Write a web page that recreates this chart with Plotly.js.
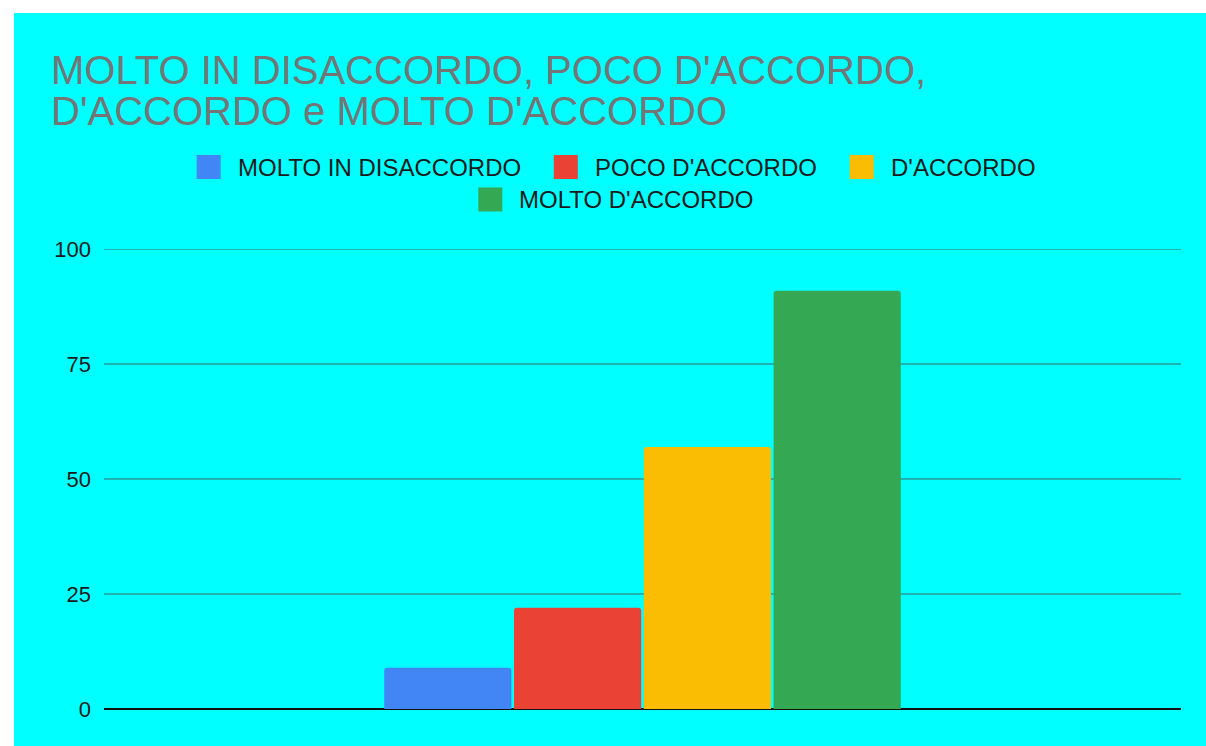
<!DOCTYPE html>
<html>
<head>
<meta charset="utf-8">
<script src="https://cdn.plot.ly/plotly-3.0.1.min.js"></script>
<style>
  html, body { margin: 0; padding: 0; background: #ffffff; }
  #chart { width: 1206px; height: 746px; }
</style>
</head>
<body>
<div id="chart"></div>
<script>
// ---- data ----
const titleLines = ["MOLTO IN DISACCORDO, POCO D'ACCORDO,", "D'ACCORDO e MOLTO D'ACCORDO"];
const category = [""];
const seriesNames = ["MOLTO IN DISACCORDO", "POCO D'ACCORDO", "D'ACCORDO", "MOLTO D'ACCORDO"];
const seriesValues = [9, 22, 57, 91];
const seriesColors = ["#4285F4", "#EA4335", "#FBBC04", "#34A853"];
const yTicks = [0, 25, 50, 75, 100];

// ---- geometry (pixels) ----
const W = 1206, H = 746;
const M = { l: 104, r: 25, t: 247, b: 37 };
const PW = W - M.l - M.r, PH = H - M.t - M.b;
const px2x = px => (px - M.l) / PW;
const py2y = py => (M.t + PH - py) / PH;

const FONT = "Liberation Sans, Arial, sans-serif";

const traces = seriesNames.map((name, i) => ({
  type: "bar",
  name: name,
  x: category,
  y: [seriesValues[i]],
  marker: { color: seriesColors[i], cornerradius: 3 },
  showlegend: false,
  hoverinfo: "skip"
}));

// ---- custom legend (large rounded swatches, centered rows) ----
const legendFontSize = 24;
const cvs = document.createElement("canvas");
const ctx = cvs.getContext("2d");
ctx.font = legendFontSize + "px 'Liberation Sans'";
const rows = [[0, 1, 2], [3]];
const rowY = [167, 199.5];
const SW = 24, TXT_OFF = 41, ITEM_GAP = 33, CENTER_X = 616;
const shapes = [];
const annotations = [];
rows.forEach((row, r) => {
  const widths = row.map(i => TXT_OFF + ctx.measureText(seriesNames[i]).width);
  const total = widths.reduce((a, b) => a + b, 0) + ITEM_GAP * (row.length - 1);
  let x = CENTER_X - total / 2;
  row.forEach((i, k) => {
    const cy = rowY[r];
    shapes.push({
      type: "rect", xref: "paper", yref: "paper", layer: "above",
      x0: px2x(x), x1: px2x(x + SW), y0: py2y(cy + SW / 2), y1: py2y(cy - SW / 2),
      fillcolor: seriesColors[i], line: { width: 0 }
    });
    annotations.push({
      xref: "paper", yref: "paper", x: px2x(x + TXT_OFF - 2), y: py2y(cy),
      xanchor: "left", yanchor: "middle", showarrow: false,
      text: seriesNames[i], font: { family: FONT, size: legendFontSize, color: "#1a1a1a" }
    });
    x += widths[k] + ITEM_GAP;
  });
});

// white strips outside the cyan chart card
shapes.push({ type: "rect", xref: "paper", yref: "paper", layer: "above",
  x0: px2x(0), x1: px2x(W), y0: py2y(13), y1: py2y(0), fillcolor: "#ffffff", line: { width: 0 } });
shapes.push({ type: "rect", xref: "paper", yref: "paper", layer: "above",
  x0: px2x(0), x1: px2x(14), y0: py2y(H), y1: py2y(0), fillcolor: "#ffffff", line: { width: 0 } });

// second title line
annotations.push({
  xref: "paper", yref: "paper", x: px2x(49), y: py2y(111),
  xanchor: "left", yanchor: "middle", showarrow: false,
  text: titleLines[1], font: { family: FONT, size: 40, color: "#757575" }
});

const layout = {
  width: W, height: H,
  margin: M,
  paper_bgcolor: "#00FFFF",
  plot_bgcolor: "rgba(0,0,0,0)",
  title: {
    text: titleLines[0],
    font: { family: FONT, size: 40, color: "#757575" },
    xref: "container", yref: "container",
    x: 51 / W, xanchor: "left",
    y: 1 - 56 / H, yanchor: "top"
  },
  barmode: "group",
  bargap: 0.518,
  bargroupgap: 0.02,
  showlegend: false,
  xaxis: {
    type: "category",
    range: [-0.5, 0.5],
    showticklabels: false,
    showgrid: false,
    zeroline: false,
    showline: false,
    ticks: "",
    fixedrange: true
  },
  yaxis: {
    range: [0, 100.5],
    tickvals: yTicks,
    ticktext: yTicks.map(String),
    tickfont: { family: FONT, size: 22, color: "#1a1a1a" },
    ticklabelstandoff: 12,
    showgrid: true,
    gridcolor: "#1fb3b3",
    gridwidth: 1.5,
    zeroline: true,
    zerolinecolor: "#111111",
    zerolinewidth: 2,
    ticks: "",
    fixedrange: true
  },
  shapes: shapes,
  annotations: annotations
};

Plotly.newPlot("chart", traces, layout, { staticPlot: true, displayModeBar: false });
</script>
</body>
</html>
